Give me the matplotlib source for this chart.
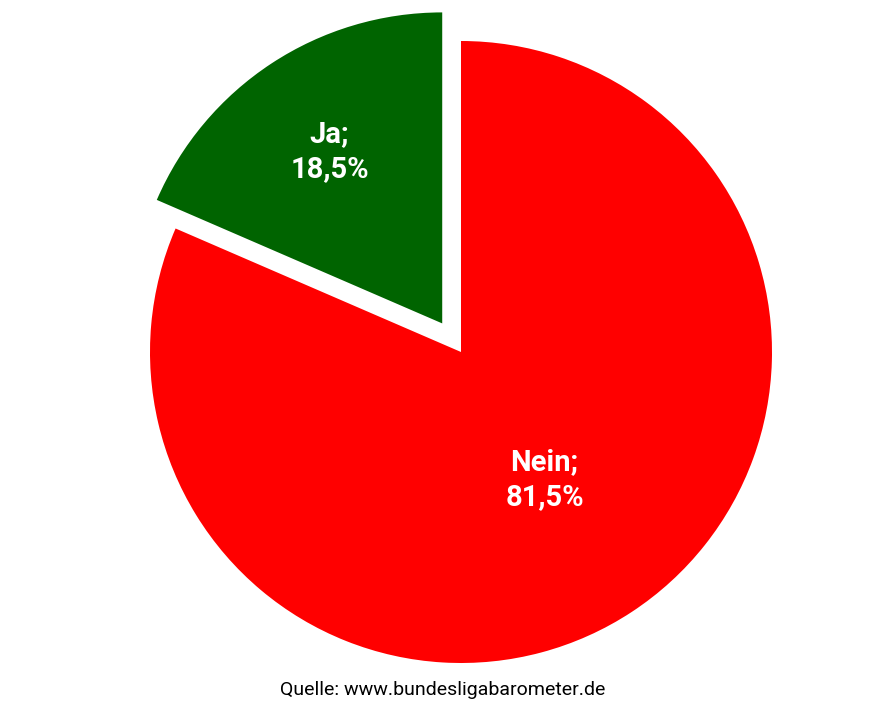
import numpy as np
import matplotlib
matplotlib.use("Agg")
import matplotlib.pyplot as plt

plt.rcParams['font.family'] = ['Liberation Sans Narrow', 'Roboto', 'DejaVu Sans']

# Daten
labels = ["Ja", "Nein"]
values = [18.5, 81.5]
colors = ["#006400", "#FF0000"]
explode = [0.11, 0.0]
label_dist = [0.66, 0.49]

W, H = 886, 715
CX, CY, R = 461, 352, 311

fig = plt.figure(figsize=(W / 100, H / 100), dpi=100)
fig.patch.set_facecolor("white")
ax = fig.add_axes([0, 0, 1, 1])

wedges, _ = ax.pie(values, colors=colors, explode=explode, startangle=90,
                   counterclock=True, radius=1.0,
                   wedgeprops=dict(linewidth=0))

for w, lab, val, d in zip(wedges, labels, values, label_dist):
    ang = np.deg2rad((w.theta1 + w.theta2) / 2)
    cx, cy = w.center
    txt = f"{lab};\n{val:.1f}%".replace(".", ",")
    ax.text(cx + d * np.cos(ang), cy + d * np.sin(ang), txt,
            ha="center", va="center", color="white", fontsize=21,
            fontweight="bold", linespacing=1.3)

ax.set_xlim(-CX / R, (W - CX) / R)
ax.set_ylim(-(H - CY) / R, CY / R)
ax.set_aspect("auto")
ax.axis("off")

fig.text(443 / W, 1 - 690 / H, "Quelle: www.bundesligabarometer.de",
         ha="center", va="center", fontsize=14, color="black")

fig.savefig("out.png", dpi=100, facecolor="white")
